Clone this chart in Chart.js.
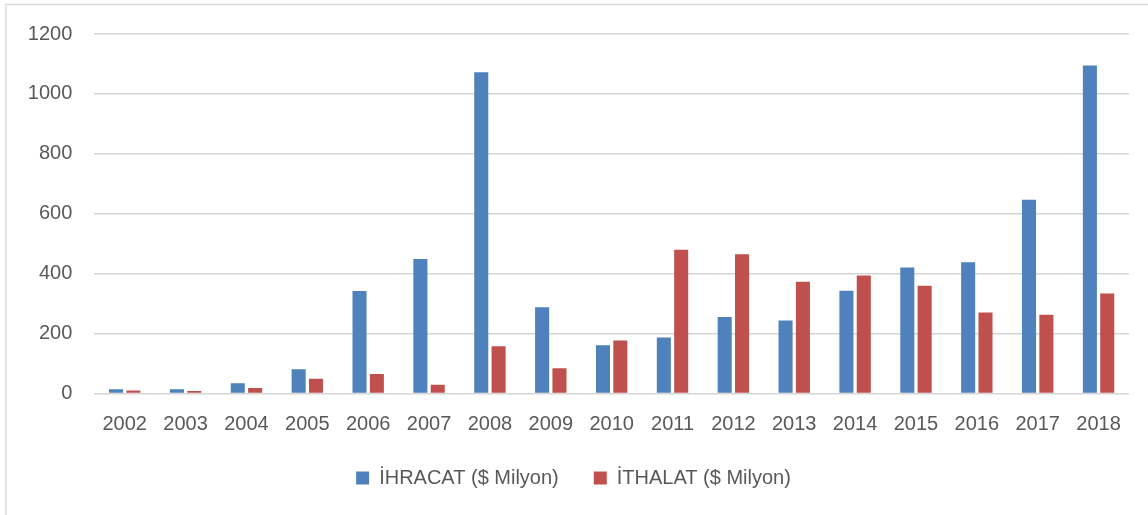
<!DOCTYPE html>
<html>
<head>
<meta charset="utf-8">
<script src="https://cdn.jsdelivr.net/npm/chart.js@4"></script>
<style>
html,body{margin:0;padding:0;background:#fff;}
#wrap{width:1148px;height:515px;position:relative;}
</style>
</head>
<body>
<div id="wrap"><canvas id="c" width="1148" height="515"></canvas></div>
<script>
const years = ["2002","2003","2004","2005","2006","2007","2008","2009","2010","2011","2012","2013","2014","2015","2016","2017","2018"];
const ihracat = [14,14,34,81,342,449,1072,288,161,187,255,244,343,421,438,647,1095];
const ithalat = [10,8,18,49,65,29,158,84,177,480,465,373,394,360,270,263,334];
const seriesNames = ["İHRACAT ($ Milyon)", "İTHALAT ($ Milyon)"];
const yTicks = [0,200,400,600,800,1000,1200];

const frame = {
  id: 'frame',
  beforeDraw(chart) {
    const ctx = chart.ctx;
    ctx.save();
    ctx.fillStyle = '#fff';
    ctx.fillRect(0,0,chart.width,chart.height);
    ctx.strokeStyle = '#d9d9d9';
    ctx.lineWidth = 1.5;
    ctx.beginPath();
    ctx.moveTo(6, chart.height);
    ctx.lineTo(6, 4.5);
    ctx.lineTo(chart.width, 4.5);
    ctx.stroke();
    ctx.restore();
  },
  afterLayout(chart) {
    if (chart.legend) { chart.legend.left += 9; chart.legend.right += 9; }
  }
};

Chart.defaults.font.family = "'Liberation Sans', Arial, sans-serif";
Chart.defaults.font.size = 20;
Chart.defaults.color = '#595959';

new Chart(document.getElementById('c'), {
  type: 'bar',
  data: {
    labels: years,
    datasets: [
      { label: seriesNames[0], data: ihracat, backgroundColor: '#4F81BD', categoryPercentage: 0.57, barPercentage: 0.81 },
      { label: seriesNames[1], data: ithalat, backgroundColor: '#C0504D', categoryPercentage: 0.57, barPercentage: 0.81 }
    ]
  },
  options: {
    responsive: false,
    animation: false,
    devicePixelRatio: 1,
    layout: { padding: { top: 33, right: 19, bottom: 17, left: 0 } },
    plugins: {
      legend: {
        position: 'bottom',
        labels: { boxWidth: 13, boxHeight: 13, padding: 35, color: '#595959', font: { size: 20 } }
      },
      tooltip: { enabled: false }
    },
    scales: {
      x: {
        grid: { display: false, drawTicks: false },
        border: { display: false },
        ticks: { padding: 19, color: '#595959', maxRotation: 0 },
        afterFit(s) { s.height = 39.5; }
      },
      y: {
        min: 0, max: 1200,
        afterBuildTicks(s) { s.ticks = yTicks.map(v => ({ value: v })); },
        grid: { color: '#d6d6d6', lineWidth: 1.5, drawTicks: false },
        border: { display: false },
        ticks: { padding: 22, color: '#595959', callback: v => String(v) },
        afterFit(s) { s.width = 94.3; }
      }
    }
  },
  plugins: [frame]
});
</script>
</body>
</html>
